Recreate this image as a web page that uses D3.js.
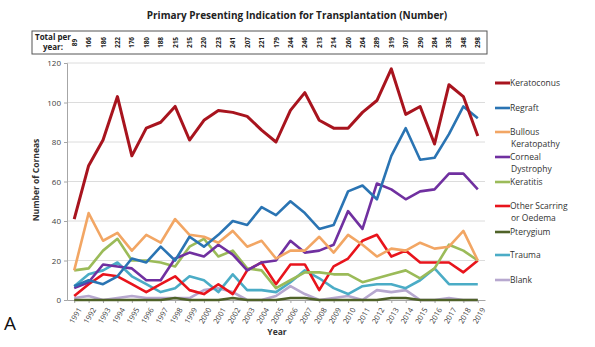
<!DOCTYPE html>
<html>
<head>
<meta charset="utf-8">
<script src="https://cdn.jsdelivr.net/npm/d3@7"></script>
<style>
  body { margin: 0; background: #fff; }
  #chart text { font-family: "Open Sans", "DejaVu Sans", sans-serif; fill: #404040; }
</style>
</head>
<body>
<div id="chart"></div>
<script>
// DATA
const years = ['1991','1992','1993','1994','1995','1996','1997','1998','1999','2000',
  '2001','2002','2003','2004','2005','2006','2007','2008','2009','2010',
  '2011','2012','2013','2014','2015','2016','2017','2018','2019'];
const totals = [89,166,186,222,176,180,188,215,215,220,223,241,207,221,179,244,246,213,214,260,264,289,319,307,290,284,335,348,298];
const yTicks = [0,20,40,60,80,100,120];

const keratoconus = [41,68,81,103,73,87,90,98,81,91,96,95,93,86,80,96,105,91,87,87,95,101,117,94,98,79,109,103,83];
const regraft     = [7,10,8,12,21,19,27,20,32,27,33,40,38,47,43,50,44,36,38,55,58,51,73,87,71,72,84,98,92];
const bullous     = [15,44,30,34,25,33,29,41,33,32,29,35,27,30,21,25,25,32,24,33,28,22,26,25,29,26,27,35,20];
const dystrophy   = [6,9,18,17,16,10,10,21,24,22,28,23,15,19,20,30,24,25,28,45,36,59,56,51,55,56,64,64,56];
const keratitis   = [15,16,25,31,20,20,19,17,27,31,22,25,16,15,6,10,14,14,13,13,9,11,13,15,11,16,28,25,20];
const scarring    = [2,8,13,12,8,4,8,12,5,3,8,3,15,19,8,18,18,5,17,21,30,33,22,25,19,19,19,14,20];
const pterygium   = [0,0,0,0,0,0,0,1,0,0,0,1,0,0,0,1,1,0,0,0,0,0,1,1,0,0,0,0,0];
const trauma      = [7,13,15,19,12,8,4,6,12,10,4,13,5,5,4,9,15,11,6,3,7,8,8,6,10,16,8,8,8];
const blank       = [1,2,0,1,2,1,1,1,1,5,6,4,0,0,2,7,3,0,1,2,0,5,4,5,0,0,1,0,0];

const series = [
  {name: ['Keratoconus'], values: keratoconus, color: '#a8141e', width: 3},
  {name: ['Regraft'], values: regraft, color: '#2a74b3', width: 2.6},
  {name: ['Bullous', 'Keratopathy'], values: bullous, color: '#f2a664', width: 2.6},
  {name: ['Corneal', 'Dystrophy'], values: dystrophy, color: '#7030a0', width: 2.6},
  {name: ['Keratitis'], values: keratitis, color: '#9bbb59', width: 2.6},
  {name: ['Other Scarring', 'or Oedema'], values: scarring, color: '#e8141c', width: 2.6},
  {name: ['Pterygium'], values: pterygium, color: '#4f6228', width: 2.6},
  {name: ['Trauma'], values: trauma, color: '#4bacc6', width: 2.6},
  {name: ['Blank'], values: blank, color: '#b7a8cf', width: 2.6}
];

document.addEventListener('DOMContentLoaded', function(){
  drawChart();
});

function drawChart() {
  // Setup
  const width = 595;
  const height = 347;
  const plot = {left: 67, right: 485, top: 63, bottom: 300};

  let svg = d3.select('#chart').append('svg')
    .attr('width', width)
    .attr('height', height);

  // SCALES
  let xScale = d3.scalePoint().domain(years).range([plot.left, plot.right]).padding(0.5);
  let yScale = d3.scaleLinear().domain([0, 120]).range([plot.bottom, plot.top]);

  // Title
  svg.append('text')
    .attr('x', 297).attr('y', 19)
    .attr('text-anchor', 'middle')
    .style('font-size', '10px').style('font-weight', 'bold').style('fill', '#222')
    .text('Primary Presenting Indication for Transplantation (Number)');

  // Totals box
  let box = svg.append('g').classed('totals', true);
  box.append('rect')
    .attr('x', 32).attr('y', 31).attr('width', 455).attr('height', 23)
    .attr('fill', '#fff').attr('stroke', '#555').attr('stroke-width', 1);
  box.append('text').attr('x', 35).attr('y', 40)
    .style('font-size', '8px').style('font-weight', 'bold').style('fill', '#222')
    .text('Total per');
  box.append('text').attr('x', 43).attr('y', 50)
    .style('font-size', '8px').style('font-weight', 'bold').style('fill', '#222')
    .text('year:');
  box.selectAll('text.total')
    .data(totals)
    .enter()
    .append('text')
    .attr('class', 'total')
    .attr('text-anchor', 'middle')
    .attr('transform', (d, i) => 'translate(' + (xScale(years[i]) + 2.5) + ',42.5) rotate(-90)')
    .style('font-size', '6.5px').style('font-weight', 'bold').style('fill', '#222')
    .text(d => d);

  // Grid
  svg.append('g').classed('grid', true)
    .selectAll('line')
    .data(yTicks.filter(d => d > 0))
    .enter()
    .append('line')
    .attr('x1', plot.left).attr('x2', plot.right)
    .attr('y1', d => yScale(d)).attr('y2', d => yScale(d))
    .attr('stroke', '#dcdcdc').attr('stroke-width', 1);

  // AXIS
  let yAxis = d3.axisLeft(yScale).tickValues(yTicks).tickSize(3).tickPadding(3);
  let yG = svg.append('g').attr('transform', 'translate(' + plot.left + ',0)').call(yAxis);
  yG.select('.domain').attr('stroke', '#a6a6a6');
  yG.selectAll('.tick line').attr('stroke', '#a6a6a6');
  yG.selectAll('.tick text').style('font-size', '8px').style('fill', '#404040');

  let xAxis = d3.axisBottom(xScale).tickSize(3).tickSizeOuter(0).tickPadding(2);
  let xG = svg.append('g').attr('transform', 'translate(0,' + plot.bottom + ')').call(xAxis);
  xG.select('.domain').attr('stroke', '#a6a6a6');
  xG.selectAll('.tick line').attr('stroke', '#a6a6a6');
  xG.selectAll('.tick text')
    .style('font-size', '7.5px').style('fill', '#404040')
    .attr('text-anchor', 'end')
    .attr('dx', 0).attr('dy', 0)
    .attr('transform', 'translate(3,7) rotate(-60)');

  // Axis titles
  svg.append('text')
    .attr('x', 277).attr('y', 335)
    .attr('text-anchor', 'middle')
    .style('font-size', '8.5px').style('font-weight', 'bold').style('fill', '#333')
    .text('Year');
  svg.append('text')
    .attr('transform', 'translate(39,180) rotate(-90)')
    .attr('text-anchor', 'middle')
    .style('font-size', '8.5px').style('font-weight', 'bold').style('fill', '#333')
    .text('Number of Corneas');
  svg.append('text')
    .attr('x', 4).attr('y', 330)
    .style('font-size', '19px').style('fill', '#111')
    .text('A');

  // LINES
  let line = d3.line()
    .x((d, i) => xScale(years[i]))
    .y(d => yScale(d));

  svg.append('g').classed('lines', true)
    .selectAll('path')
    .data(series.slice().reverse())
    .enter()
    .append('path')
    .attr('fill', 'none')
    .attr('stroke', d => d.color)
    .attr('stroke-width', d => d.width)
    .attr('stroke-linejoin', 'round')
    .attr('d', d => line(d.values));

  // Legend
  const legendY = [83, 108, 132, 157, 182, 206, 232, 255, 280];
  let legend = svg.append('g').classed('legend', true);
  series.forEach((s, i) => {
    let g = legend.append('g').attr('transform', 'translate(495,' + legendY[i] + ')');
    g.append('line')
      .attr('x1', 0).attr('x2', 15).attr('y1', 0).attr('y2', 0)
      .attr('stroke', s.color).attr('stroke-width', s.width);
    s.name.forEach((t, j) => {
      g.append('text')
        .attr('x', j === 0 ? 15 : 16).attr('y', 3 + j * 11.5)
        .style('font-size', '8.5px').style('fill', '#333')
        .text(t);
    });
  });
}
</script>
</body>
</html>
